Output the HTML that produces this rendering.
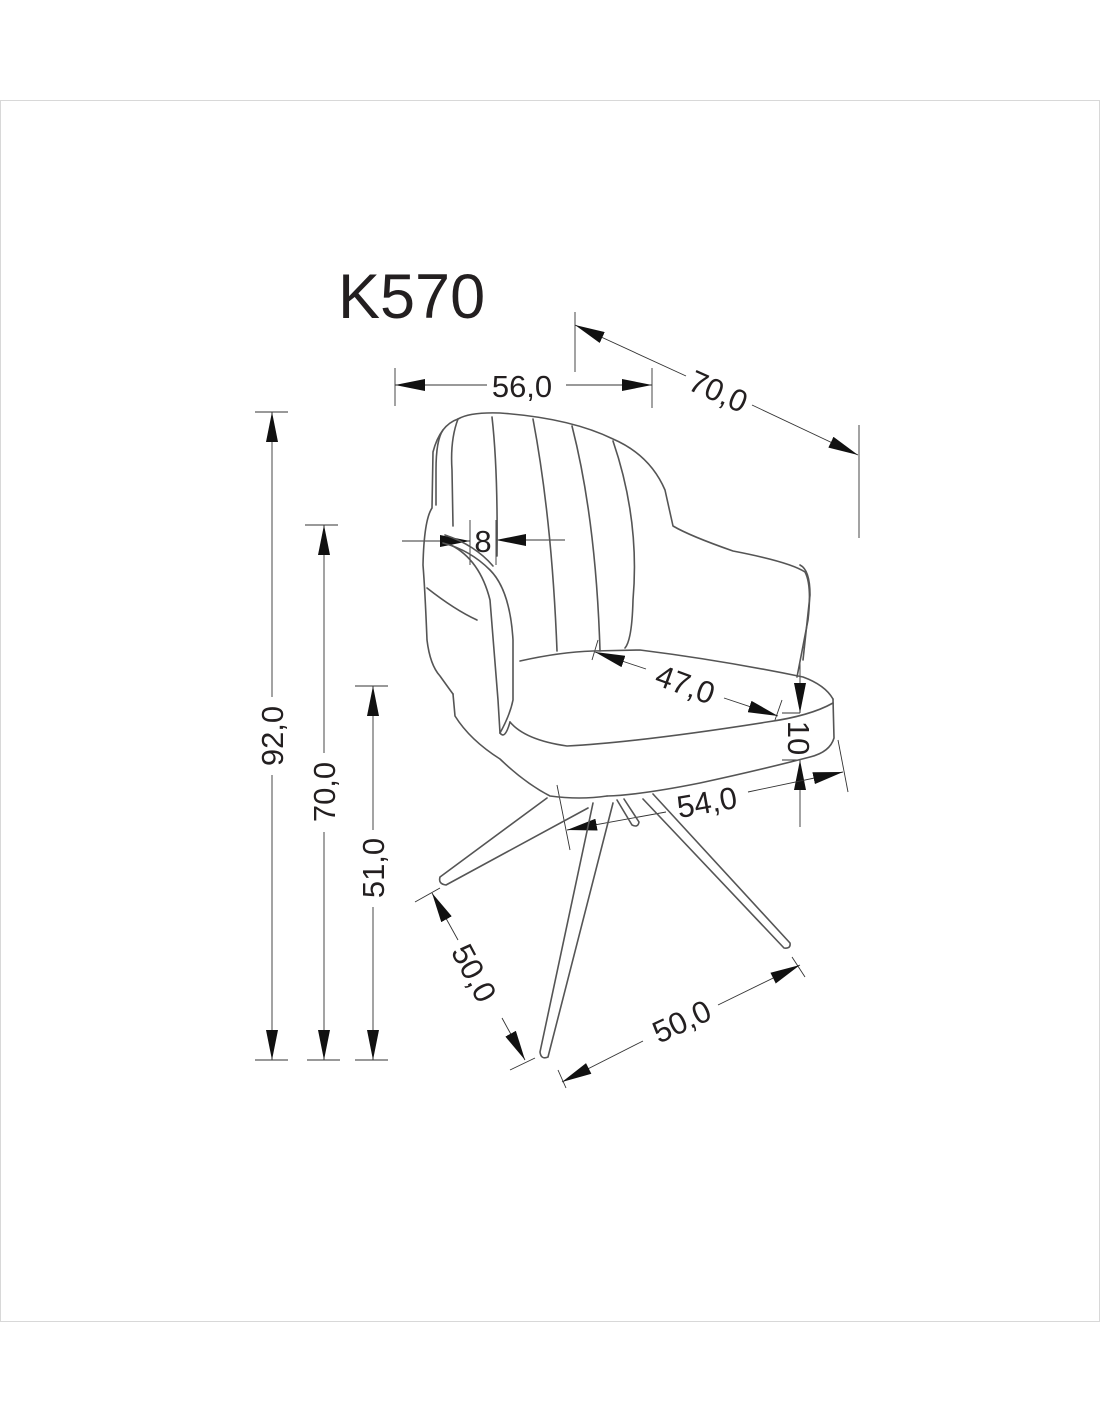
<!DOCTYPE html>
<html><head><meta charset="utf-8"><style>
html,body{margin:0;padding:0;background:#fff;}
svg{display:block;}
text{font-family:"Liberation Sans",Arial,sans-serif;fill:#231f20;}
</style></head><body>
<svg width="1100" height="1422" viewBox="0 0 1100 1422" xmlns="http://www.w3.org/2000/svg">
<defs>
<marker id="a" viewBox="0 0 30 12" refX="30" refY="6" markerWidth="30" markerHeight="12" markerUnits="userSpaceOnUse" orient="auto">
<path d="M0,0 L30,6 L0,12 Z" fill="#111"/></marker>
</defs>
<rect x="0.5" y="100.5" width="1099" height="1221" fill="none" stroke="#d8d8d8" stroke-width="1"/>
<text x="338" y="318" font-size="63">K570</text>

<g stroke="#333" stroke-width="0.9" fill="none">
<line x1="395" y1="368" x2="395" y2="406"/><line x1="652" y1="368" x2="652" y2="408"/>
<line x1="487" y1="385" x2="395" y2="385" marker-end="url(#a)"/>
<line x1="566" y1="385" x2="652" y2="385" marker-end="url(#a)"/>
<line x1="575" y1="312" x2="575" y2="372"/><line x1="859" y1="425" x2="859" y2="538"/>
<line x1="686" y1="376" x2="575" y2="325" marker-end="url(#a)"/>
<line x1="752" y1="405" x2="858" y2="455" marker-end="url(#a)"/>
<line x1="255" y1="412" x2="288" y2="412"/><line x1="255" y1="1060" x2="288" y2="1060"/>
<line x1="272" y1="697" x2="272" y2="412" marker-end="url(#a)"/>
<line x1="272" y1="775" x2="272" y2="1060" marker-end="url(#a)"/>
<line x1="305" y1="525" x2="338" y2="525"/><line x1="307" y1="1060" x2="340" y2="1060"/>
<line x1="324" y1="753" x2="324" y2="525" marker-end="url(#a)"/>
<line x1="324" y1="832" x2="324" y2="1060" marker-end="url(#a)"/>
<line x1="355" y1="686" x2="388" y2="686"/><line x1="355" y1="1060" x2="388" y2="1060"/>
<line x1="373" y1="830" x2="373" y2="686" marker-end="url(#a)"/>
<line x1="373" y1="907" x2="373" y2="1060" marker-end="url(#a)"/>
<line x1="470" y1="520" x2="470" y2="565"/><line x1="496" y1="520" x2="496" y2="565"/>
<line x1="402" y1="541" x2="470" y2="541" marker-end="url(#a)"/>
<line x1="565" y1="540" x2="496" y2="540" marker-end="url(#a)"/>
<line x1="598" y1="640" x2="592" y2="660"/><line x1="782" y1="700" x2="775" y2="720"/>
<line x1="646" y1="669" x2="595" y2="652" marker-end="url(#a)"/>
<line x1="724" y1="698" x2="778" y2="716" marker-end="url(#a)"/>
<line x1="782" y1="713" x2="800" y2="713"/><line x1="782" y1="760" x2="800" y2="760"/>
<line x1="800" y1="660" x2="800" y2="713" marker-end="url(#a)"/>
<line x1="800" y1="827" x2="800" y2="760" marker-end="url(#a)"/>
<line x1="557" y1="785" x2="570" y2="850"/><line x1="838" y1="740" x2="848" y2="792"/>
<line x1="666" y1="812" x2="567" y2="830" marker-end="url(#a)"/>
<line x1="748" y1="792" x2="843" y2="772" marker-end="url(#a)"/>
<line x1="415" y1="902" x2="440" y2="888"/><line x1="510" y1="1070" x2="535" y2="1058"/>
<line x1="458" y1="940" x2="432" y2="893" marker-end="url(#a)"/>
<line x1="502" y1="1018" x2="525" y2="1060" marker-end="url(#a)"/>
<line x1="558" y1="1070" x2="566" y2="1088"/><line x1="792" y1="957" x2="805" y2="977"/>
<line x1="643" y1="1041" x2="562" y2="1082" marker-end="url(#a)"/>
<line x1="718" y1="1005" x2="800" y2="965" marker-end="url(#a)"/>
</g>

<g font-size="31">
<text x="522" y="397" text-anchor="middle">56,0</text>
<text x="718" y="402" text-anchor="middle" transform="rotate(24 718 392)">70,0</text>
<text x="283" y="736" text-anchor="middle" transform="rotate(-90 283 736)">92,0</text>
<text x="335" y="792" text-anchor="middle" transform="rotate(-90 335 792)">70,0</text>
<text x="384" y="868" text-anchor="middle" transform="rotate(-90 384 868)">51,0</text>
<text x="483" y="552" text-anchor="middle">8</text>
<text x="685" y="695" text-anchor="middle" transform="rotate(20 685 685)">47,0</text>
<text x="788" y="738" text-anchor="middle" transform="rotate(90 788 738)">10</text>
<text x="707" y="813" text-anchor="middle" transform="rotate(-10 707 803)">54,0</text>
<text x="470" y="991" text-anchor="middle" transform="rotate(62 478 980)">50,0</text>
<text x="682" y="1032" text-anchor="middle" transform="rotate(-25 682 1022)">50,0</text>
</g>

<g stroke="#555" stroke-width="1.6" fill="none" stroke-linejoin="round" stroke-linecap="round">
<path d="M458,419 Q470,412 500,413 Q570,418 613,439 Q650,455 665,490 L673,526 Q690,536 733,551 Q790,562 805,572 Q812,585 808,620 L797,677"/>
<path d="M800,565 Q810,570 810,595 L803,660"/>
<path d="M458,419 Q440,425 433,452 L432,508 Q424,520 423,565 Q425,590 427,640 Q430,665 440,676 Q450,690 453,694"/>
<path d="M443,430 Q436,440 436,470 L436,505"/>
<path d="M458,419 Q450,440 452,470 L453,526"/>
<path d="M427,588 Q455,610 477,620"/>
<path d="M443,543 Q470,550 490,570 Q510,590 513,640 L513,700 Q510,715 500,733"/>
<path d="M445,535 Q475,545 493,566"/>
<path d="M451,545 Q480,560 490,600 L498,700 L500,733"/>
<path d="M492,417 Q498,470 497,556"/>
<path d="M533,419 Q552,520 557,651"/>
<path d="M572,426 Q596,520 600,651"/>
<path d="M613,441 Q640,520 633,600 Q632,640 625,648"/>
<path d="M520,661 Q560,652 593,651 L640,650 Q720,660 803,677 Q825,685 833,699"/>
<path d="M510,722 Q525,740 567,746 Q640,742 767,722 Q810,716 833,703"/>
<path d="M833,699 L834,738 Q830,752 810,757 Q760,770 700,783 Q640,795 607,796"/>
<path d="M500,733 Q505,740 510,722"/>
<path d="M453,694 L455,716 Q470,740 500,759 Q525,783 550,796 Q580,800 607,796"/>
<path d="M547,798 L440,877 Q438,884 446,885 L588,808"/>
<path d="M593,803 L540,1052 Q541,1060 548,1057 L613,803"/>
<path d="M653,794 L790,943 Q791,949 784,948 L643,799"/>
<path d="M617,800 L632,825 Q638,828 639,822 L624,799"/>
</g>
</svg>
</body></html>
